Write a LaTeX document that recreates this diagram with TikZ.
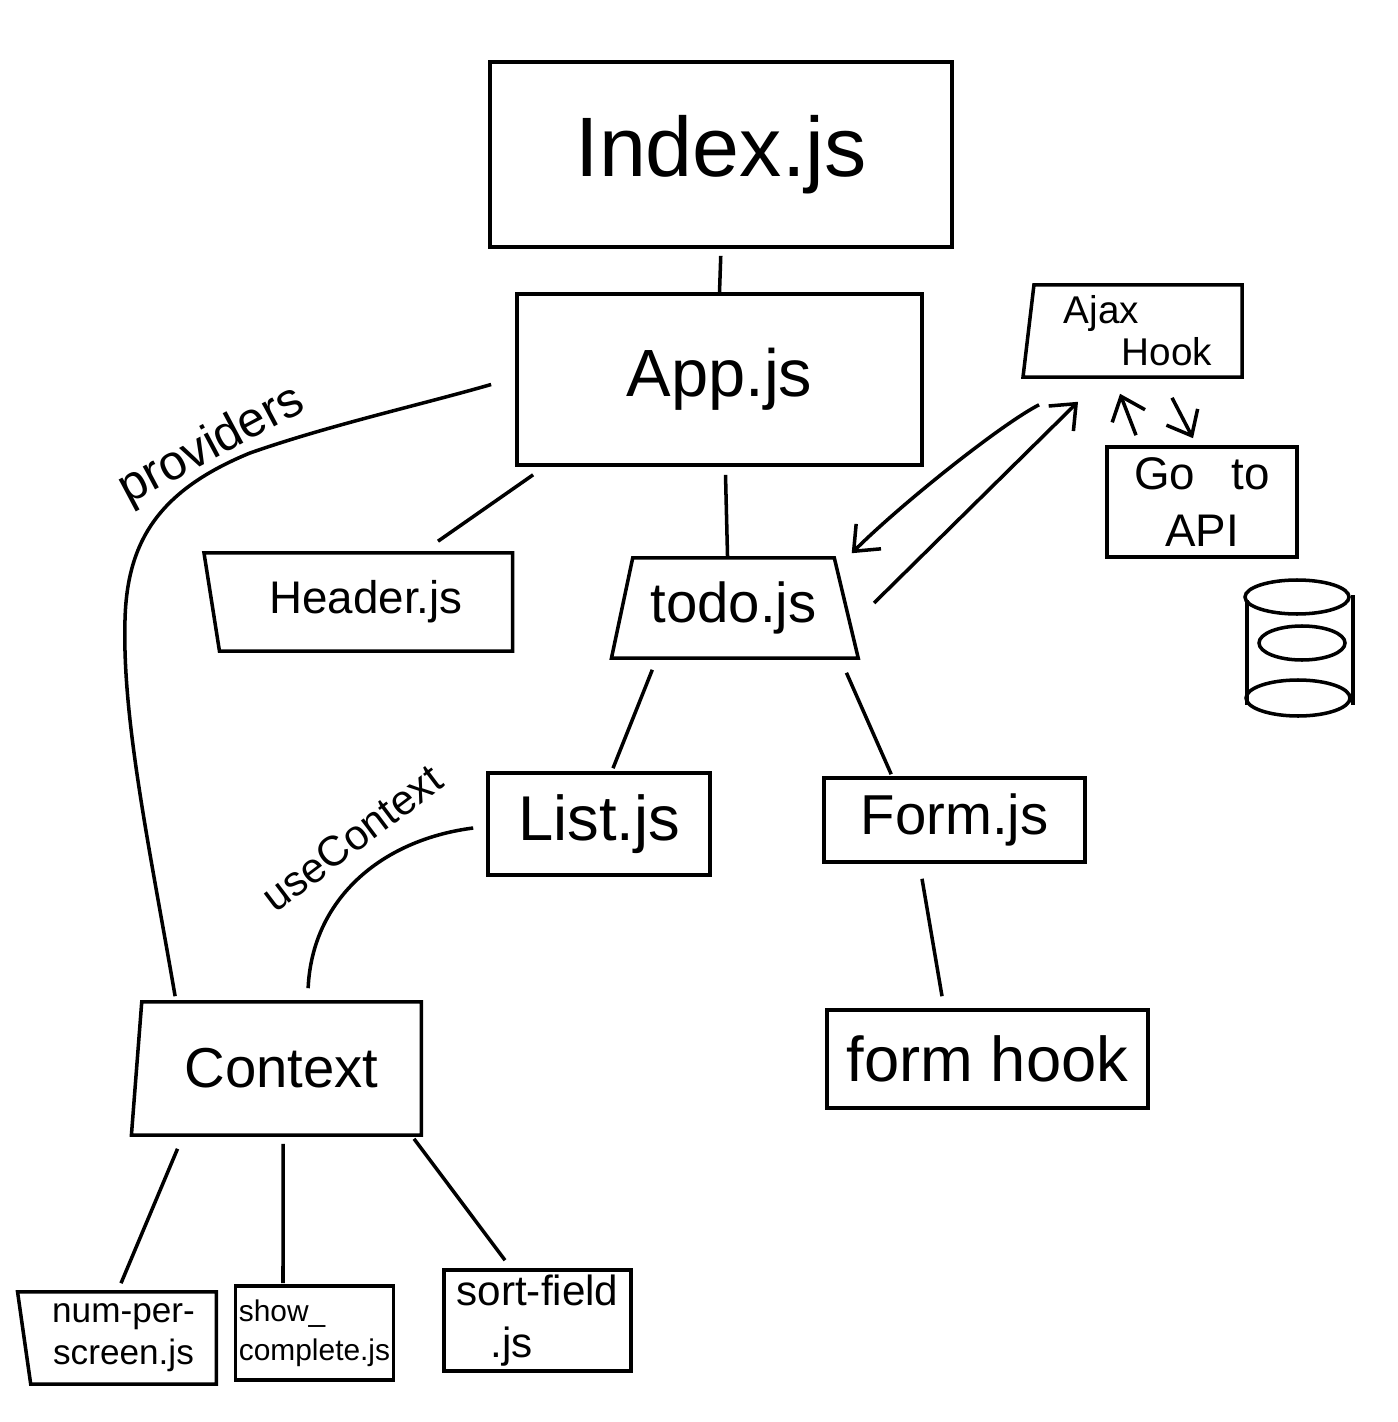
\documentclass[tikz,border=0pt]{standalone}
\usepackage{fontspec}
\setmainfont{Liberation Sans}
\usetikzlibrary{positioning,arrows.meta,shapes.geometric,calc}
\newcommand{\handsize}[2]{\fontsize{#1}{#2}\selectfont}

\begin{document}
\begin{tikzpicture}[x=0.01cm, y=-0.01cm, line width=1pt,
  filebox/.style={draw, rectangle, inner sep=1pt, align=center},
  slantbox/.style={draw, trapezium, trapezium stretches=true, inner sep=1pt, align=center, trapezium right angle=90},
  link/.style={line width=1pt},
  callarrow/.style={line width=1pt, -{Straight Barb[length=6pt,width=10pt]}},
  curvelabel/.style={font=\handsize{14}{16}},
]
\useasboundingbox (0,0) rectangle (1398,1422);

% top of the tree
\node[filebox, minimum width=4.62cm, minimum height=1.85cm, font=\handsize{24}{28}] (index) at (721,154.5) {Index.js};
\node[filebox, minimum width=4.05cm, minimum height=1.71cm, font=\handsize{19}{22}] (app) at (719.5,379.5) {App.js};

% ajax side
\node[slantbox, trapezium left angle=84, minimum width=2.19cm, minimum height=0.92cm, font=\handsize{11}{12}, align=left] (ajax) at (1138,331) {Ajax\\\hspace*{1.5em}Hook};
\node[filebox, minimum width=1.9cm, minimum height=1.1cm, font=\handsize{13}{16}] (api) at (1202,502) {Go\hspace{0.8em}to\\API};

% database
\draw (1247,600) -- (1247,705);
\draw (1353,595) -- (1353,705);
\draw (1297,597) ellipse [x radius=52, y radius=17];
\draw (1302,643) ellipse [x radius=43, y radius=17];
\draw (1298,698) ellipse [x radius=52, y radius=18];

% middle row
\node[slantbox, trapezium left angle=102, minimum width=3.1cm, minimum height=0.98cm, font=\handsize{13}{15}] (header) at (366,602) {Header.js};
\node[draw, trapezium, trapezium stretches=true, trapezium left angle=73, trapezium right angle=71, inner sep=1pt, minimum width=2.47cm, minimum height=1.0cm, font=\handsize{16}{19}] (todo) at (733.5,608) {todo.js};

\node[filebox, minimum width=2.22cm, minimum height=1.02cm, font=\handsize{18}{22}] (list) at (599,824) {List.js};
\node[filebox, minimum width=2.61cm, minimum height=0.84cm, font=\handsize{16}{19}] (form) at (954.5,820) {Form.js};
\node[filebox, minimum width=3.21cm, minimum height=0.98cm, font=\handsize{18}{22}] (formhook) at (987.5,1059) {form hook};

% context and its children
\node[slantbox, trapezium left angle=81, minimum width=2.91cm, minimum height=1.33cm, font=\handsize{16}{19}] (context) at (281.5,1068.5) {Context};
\node[slantbox, trapezium left angle=98, minimum width=1.99cm, minimum height=0.92cm, font=\handsize{10}{12}] (numper) at (123.5,1338) {num-per-\\screen.js};
\node[filebox, minimum width=1.57cm, minimum height=0.94cm, font=\handsize{8.5}{11}, align=left] (showdone) at (314.5,1333) {show\_\\complete.js};
\node[filebox, minimum width=1.87cm, minimum height=1.01cm, font=\handsize{12}{15}, align=left] (sortfield) at (537.5,1320.5) {sort-field\\\hspace*{0.8em}.js};

% tree links
\draw[link, shorten <=2pt] (index.south) -- (app.north);
\draw[link] ($(app.south west)+(18,8)$) -- ($(header.north)+(72,-10)$);
\draw[link] ($(app.south)+(6,8)$) -- ($(todo.north)+(-6,0)$);
\draw[link] ($(todo.bottom left corner)+(43,10)$) -- ($(list.north)+(14,-3)$);
\draw[link] ($(todo.bottom right corner)+(-14,13)$) -- ($(form.north west)+(69,-2)$);
\draw[link] ($(form.south)+(-32.5,15)$) -- ($(formhook.north)+(-45.5,-12)$);
\draw[link] ($(context.bottom left corner)+(48,12)$) -- ($(numper.north)+(-2.5,-7)$);
\draw[link] ($(context.south)+(1.5,7)$) -- ($(showdone.north)+(-31.5,-1)$);
\draw[link] ($(context.bottom right corner)+(-9,2)$) -- ($(sortfield.north)+(-32.5,-8)$);

% calls to the hook
\draw[callarrow] ($(ajax.bottom left corner)+(18,26)$) .. controls (1000,425) and (900,505) .. ($(todo.top right corner)+(16,-3)$);
\draw[callarrow] ($(todo.east)+(26,-5)$) -- ($(ajax.south)+(-60,23)$);
\draw[callarrow] ($(api.north)+(-66,-10)$) -- ($(ajax.south)+(-18,15)$);
\draw[callarrow] ($(ajax.south)+(34,19)$) -- ($(api.north)+(-9,-7)$);

% providers / useContext
\draw[link] ($(context.top left corner)+(35,-4)$) .. controls (150,850) and (122,720) .. (125,620)
  .. controls (127,540) and (160,490) .. (250,453)
  .. controls (330,425) and (420,405) .. ($(app.west)+(-24,5)$);
\node[curvelabel, rotate=28] (providers) at (212,446) {providers};
\draw[link] ($(context.top left corner)+(168,-12)$) .. controls (312,900) and (380,840) .. ($(list.west)+(-13,4)$);
\node[curvelabel, font=\handsize{12}{14}, rotate=37] (usectx) at (352,838) {useContext};
\end{tikzpicture}
\end{document}
